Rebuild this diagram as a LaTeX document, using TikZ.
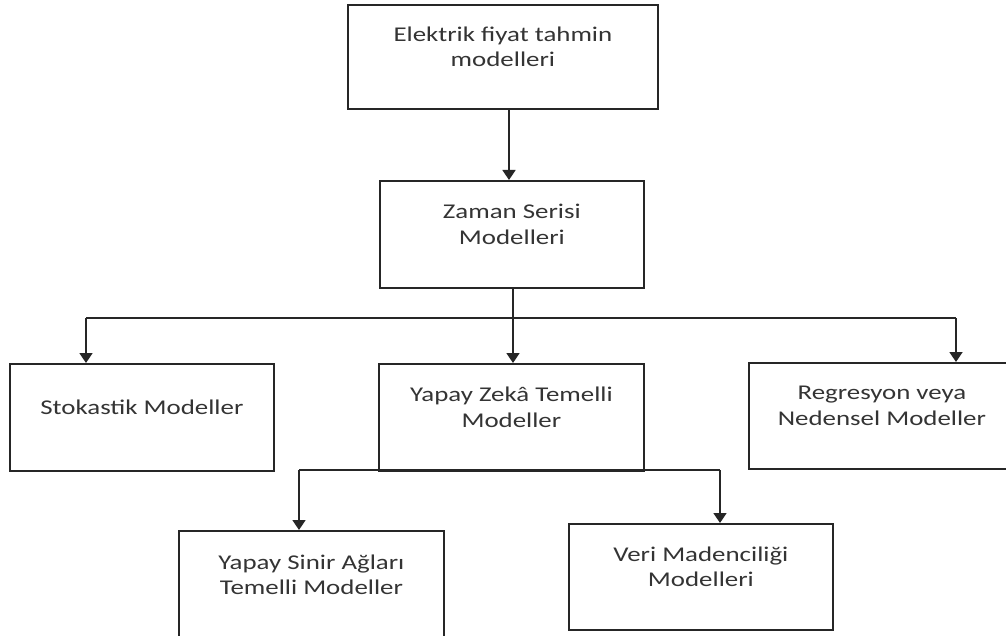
\documentclass[tikz,border=0pt]{standalone}
\usepackage{fontspec}
\setmainfont{Carlito}[FakeStretch=1.28]
\usetikzlibrary{arrows.meta}
\definecolor{linecol}{RGB}{38,38,38}
\definecolor{textcol}{RGB}{52,52,52}
\tikzset{
  box/.style={draw=linecol, line width=1.8pt, inner sep=0pt, anchor=north west},
  lbl/.style={font=\fontsize{21}{25.5}\selectfont, text=textcol, align=center, inner sep=0pt, yshift=10pt},
  conn/.style={draw=linecol, line width=1.8pt},
  arr/.style={conn, -{Triangle[width=13pt,length=10pt]}}
}
\begin{document}
\begin{tikzpicture}[x=1pt,y=-1pt]
\useasboundingbox (0,0) rectangle (1006,636);
\fill[white] (0,0) rectangle (1006,636);
\clip (0,0) rectangle (1006,636);

% boxes
\node[box, minimum width=310pt, minimum height=104pt] (top) at (347,4) {};
\node[box, minimum width=264pt, minimum height=107pt] (zaman) at (379,180) {};
\node[box, minimum width=264pt, minimum height=107pt] (stok) at (9,363) {};
\node[box, minimum width=265pt, minimum height=107pt] (yz) at (378,363) {};
\node[box, minimum width=266pt, minimum height=106pt] (reg) at (748,362) {};
\node[box, minimum width=265pt, minimum height=108pt] (ysa) at (178,530) {};
\node[box, minimum width=264pt, minimum height=106pt] (veri) at (568,523) {};

% labels
\node[lbl] (ttop) at (top.center) {Elektrik fiyat tahmin\\modelleri};
\node[lbl] (tzaman) at (zaman.center) {Zaman Serisi\\Modelleri};
\node[lbl] (tstok) at (stok.center) {Stokastik Modeller};
\node[lbl] (tyz) at (yz.center) {Yapay Zekâ Temelli\\Modeller};
\node[lbl] (treg) at (reg.center) {Regresyon veya\\Nedensel Modeller};
\node[lbl] (tysa) at (ysa.center) {Yapay Sinir Ağları\\Temelli Modeller};
\node[lbl] (tveri) at (veri.center) {Veri Madenciliği\\Modelleri};

% branch points
\coordinate (m1) at (509,0);
\coordinate (m2) at (513,0);
\coordinate (sa) at (86,318);
\coordinate (ra) at (956,318);
\coordinate (ya) at (299,470);
\coordinate (va) at (720,470);

% connectors
\draw[arr] (top.south -| m1) -- (zaman.north -| m1);
\draw[arr] (zaman.south -| m2) -- (yz.north -| m2);
\draw[conn] (sa) -- (ra);
\draw[arr] (sa) -- (sa |- stok.north);
\draw[arr] (ra) -- (ra |- reg.north);
\draw[conn] (ya) -- (va);
\draw[arr] (ya) -- (ya |- ysa.north);
\draw[arr] (va) -- (va |- veri.north);
\end{tikzpicture}
\end{document}
